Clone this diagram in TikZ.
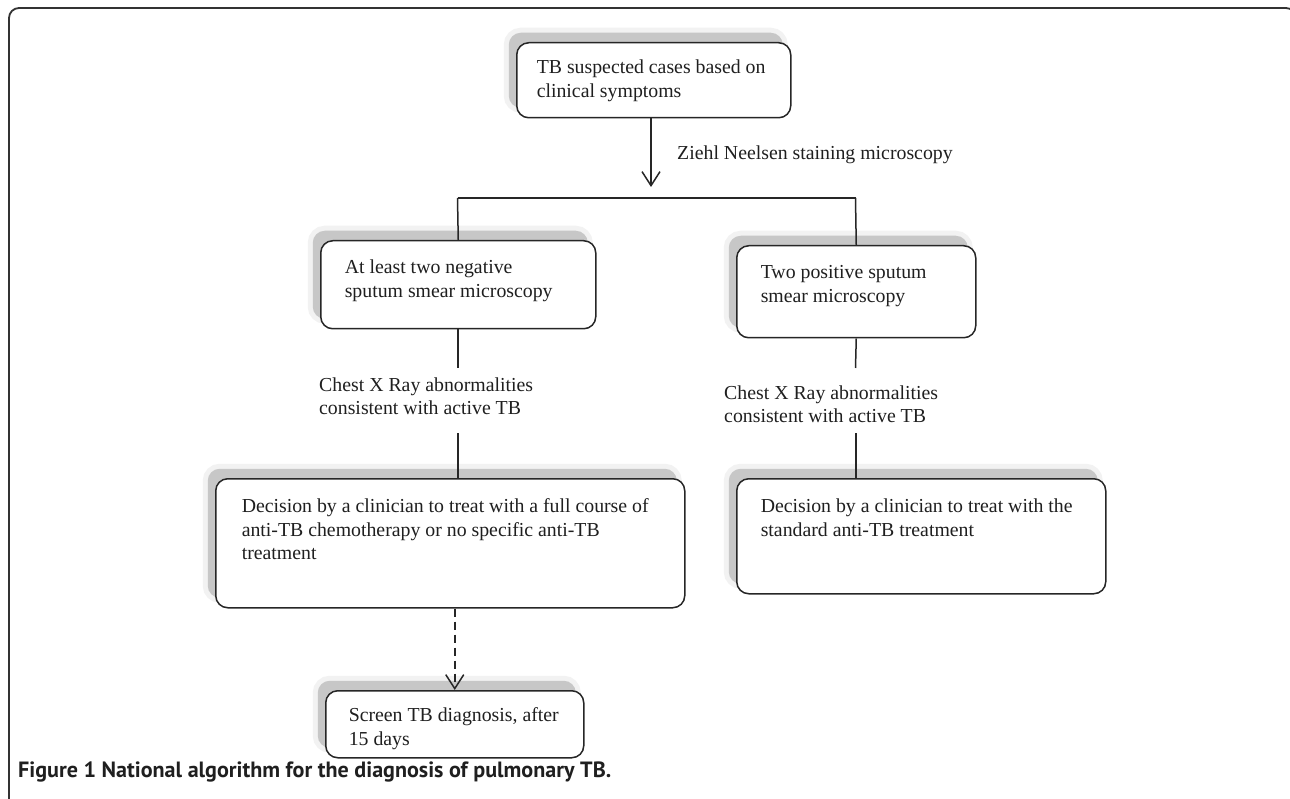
\documentclass[tikz,border=0pt]{standalone}
\usepackage{fontspec}
\setmainfont{Liberation Serif}
\newfontfamily\capfont{PT Sans}
\usetikzlibrary{arrows.meta,shadows,calc}
\newcommand{\boxtxt}[5]{\hspace*{#1}\parbox[c][#3][t]{\dimexpr#2-#1\relax}{\raggedright\rule{0pt}{#4}#5}}
\begin{document}
\begin{tikzpicture}[x=1pt,y=-1pt,
  every node/.style={font=\fontsize{19.8pt}{23.5pt}\selectfont, text=black!88},
  fbox/.style={draw=black!85, line width=1.5pt, rounded corners=12pt, fill=white, inner sep=0pt, anchor=north west,
    general shadow={shadow xshift=-8pt, shadow yshift=10pt, fill=black!5, draw=black!5, line width=10pt},
    general shadow={shadow xshift=-8pt, shadow yshift=10pt, fill=black!22}},
  lbl/.style={inner sep=0pt, anchor=west, align=left},
  conn/.style={draw=black!85, line width=1.5pt},
  tipV/.style={-{Straight Barb[length=14pt,width=18pt,line width=1.5pt]}},
  dashline/.style={dash pattern=on 8pt off 5pt}
]
\useasboundingbox (0,0) rectangle (1290,799);
\begin{scope}
\clip (0,0) rectangle (1290,799);
\draw[line width=1.8pt, draw=black!80, rounded corners=10pt] (9,830) -- (9,8) -- (1296,8) -- (1296,830);
\end{scope}

\node[fbox] (top) at (516,42) {\boxtxt{20pt}{274pt}{75pt}{31pt}{TB suspected cases based on\\clinical symptoms}};
\node[fbox] (neg) at (320,240) {\boxtxt{24pt}{275pt}{88pt}{33pt}{At least two negative\\sputum smear microscopy}};
\node[fbox] (pos) at (736,245) {\boxtxt{24pt}{239pt}{92pt}{33pt}{Two positive sputum\\smear microscopy}};
\node[fbox] (bigL) at (215,478) {\boxtxt{26pt}{469pt}{129pt}{34pt}{Decision by a clinician to treat with a full course of\\anti-TB chemotherapy or no specific anti-TB\\treatment}};
\node[fbox] (bigR) at (736,478) {\boxtxt{24pt}{369pt}{115pt}{34pt}{Decision by a clinician to treat with the\\standard anti-TB treatment}};
\node[fbox] (bot) at (325,690) {\boxtxt{23pt}{258pt}{67pt}{31pt}{Screen TB diagnosis, after\\15 days}};

\node[lbl] (zn) at (677,155) {Ziehl Neelsen staining microscopy};
\node[lbl, font=\fontsize{19.8pt}{23pt}\selectfont] (xl) at (319,396.5) {Chest X Ray abnormalities\\consistent with active TB};
\node[lbl, font=\fontsize{19.8pt}{23pt}\selectfont] (xr) at (724,404) {Chest X Ray abnormalities\\consistent with active TB};

\coordinate (tip) at (651,187);
\coordinate (barL) at (457.5,198);
\coordinate (barR) at (855.5,198);
\coordinate (cL1) at (458,368);
\coordinate (cL2) at (458,433);
\coordinate (cR1) at (855.5,368);
\coordinate (cR2) at (856,433);

\draw[conn,tipV] (top.south -| tip) -- (tip);
\draw[conn] (barL) -- (barR);
\draw[conn] (barL) -- (neg.north);
\draw[conn] (barR) -- (pos.north);
\draw[conn] (neg.south -| cL1) -- (cL1);
\draw[conn] (cL2) -- (cL2 |- bigL.north);
\draw[conn] (pos.south) -- (cR1);
\draw[conn] (cR2) -- (cR2 |- bigR.north);
\draw[conn,dashline,tipV] (bigL.south -| bot.north) -- (bot.north);

\node[anchor=west, inner sep=0pt, text=black!88] (cap) at (18,772) {\resizebox{593pt}{!}{\fontsize{20pt}{24pt}\selectfont\capfont\bfseries Figure 1 National algorithm for the diagnosis of pulmonary TB.}};
\end{tikzpicture}
\end{document}
